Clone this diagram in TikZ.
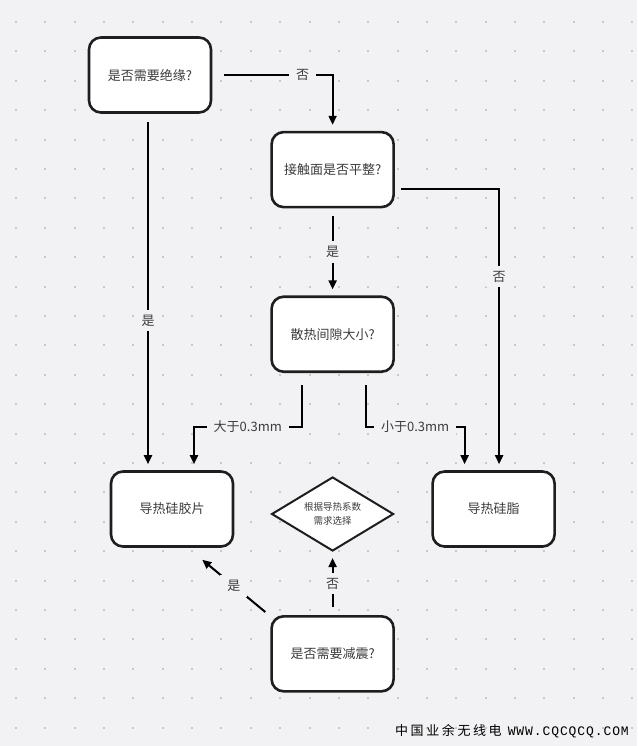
\documentclass[tikz,border=0pt]{standalone}
\usepackage{fontspec}
\setmainfont{Noto Sans CJK SC}
\newfontfamily\wmfont[LetterSpace=20]{Noto Sans CJK SC}
\newfontfamily\wmmono[LetterSpace=7]{Liberation Mono}
\usetikzlibrary{arrows.meta, positioning, shapes.geometric}
\definecolor{bggray}{RGB}{242,242,244}
\definecolor{dotgray}{RGB}{200,200,204}
\definecolor{textgray}{RGB}{60,60,60}
\definecolor{linegray}{RGB}{30,30,30}

\begin{document}
\begin{tikzpicture}[
    x=1pt, y=-1pt,
    every node/.style={align=center, font=\fontsize{13}{15}\selectfont, text=textgray},
    box/.style={draw=linegray, line width=2.6pt, rounded corners=12pt, fill=white, minimum width=122pt, minimum height=75pt},
    choice/.style={diamond, draw=linegray, line width=2pt, fill=white, aspect=1.64, minimum width=122pt, minimum height=74pt, inner sep=2pt, font=\fontsize{9.5}{14}\selectfont},
    arrow/.style={-{Triangle[length=9pt,width=8pt]}, line width=2pt, black, shorten <=8pt, shorten >=6pt},
    lbl/.style={fill=bggray, inner xsep=7pt, inner ysep=5pt, text=textgray}
]
    % Background
    \fill[bggray] (0,0) rectangle (637,746);
    \useasboundingbox (0,0) rectangle (637,746);
    \foreach \i in {0,...,21}
        \foreach \j in {0,...,24}
            \fill[dotgray] ({15+29.35*\i},{21+29.4*\j}) rectangle ++(2,2);

    % Nodes
    \node[box] (insul) at (150,75) {是否需要绝缘?};
    \node[box, below right=17pt and 58pt of insul] (contact) {接触面是否平整?};
    \node[box, below=87pt of contact] (gap) {散热间隙大小?};
    \node[box] (pad) at (172,509) {导热硅胶片};
    \node[box, right=197pt of pad] (grease) {导热硅脂};
    \node[choice, below=103pt of gap] (choose) {根据导热系数\\需求选择};
    \node[box, below=63pt of choose] (shock) {是否需要减震?};
    \node[anchor=east, text=black, inner sep=0pt, font=\fontsize{13}{15}\selectfont] (wm) at (629,731) {{\wmfont 中国业余无线电}\hspace{6pt}{\wmmono WWW.CQCQCQ.COM}};

    % Arrows
    \draw[arrow, shorten <=12pt] (insul.east) -| node[lbl, pos=0.375]{否} (contact.north);
    \draw[arrow] ([xshift=-2pt]insul.south) -- node[lbl, pos=0.58]{是} ([xshift=-2pt]insul.south |- pad.north);
    \draw[arrow, shorten <=6pt] ([yshift=-19pt]contact.east) -| node[lbl, pos=0.656]{否} ([xshift=5.5pt]grease.north);
    \draw[arrow] (contact) -- node[lbl]{是} (gap);
    \draw[arrow, shorten <=12pt] ([xshift=-31pt]gap.south) -- ++(0,54) -| node[lbl, pos=0.25]{大于0.3mm} ([xshift=22pt]pad.north);
    \draw[arrow, shorten <=12pt] ([xshift=33pt]gap.south) -- ++(0,54) -| node[lbl, pos=0.25]{小于0.3mm} ([xshift=-29pt]grease.north);
    \draw[arrow] (shock) -- node[lbl]{否} (choose);
    \draw[arrow, shorten <=0pt, shorten >=0pt] ([xshift=-5pt,yshift=3pt]shock.north west) -- node[lbl]{是} ([xshift=-32pt,yshift=-12pt]pad.south east);
\end{tikzpicture}
\end{document}
